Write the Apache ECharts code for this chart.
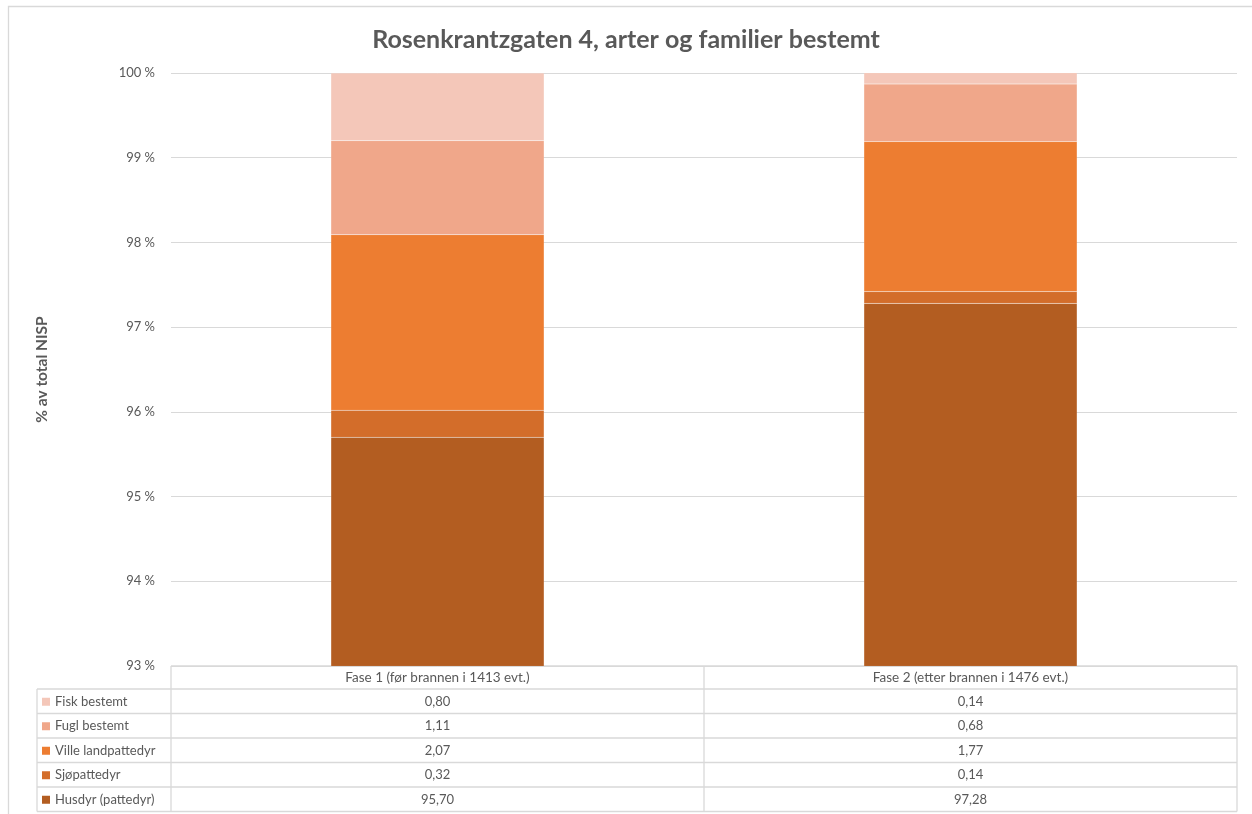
<!DOCTYPE html>
<html>
<head>
<meta charset="utf-8">
<script src="https://cdn.jsdelivr.net/npm/echarts@6/dist/echarts.min.js"></script>
<style>
  html, body { margin: 0; padding: 0; background: #fff; }
  #chart { width: 1252px; height: 814px; }
</style>
</head>
<body>
<div id="chart"></div>
<script>
// Phases (categories)
const categories = ['Fase 1 (før brannen i 1413 evt.)', 'Fase 2 (etter brannen i 1476 evt.)'];

// Share of total NISP per group, one value per phase
const husdyr = [95.70, 97.28];
const sjopattedyr = [0.32, 0.14];
const villeLandpattedyr = [2.07, 1.77];
const fuglBestemt = [1.11, 0.68];
const fiskBestemt = [0.80, 0.14];

// Stacked from bottom to top
const seriesNames = ['Husdyr (pattedyr)', 'Sjøpattedyr', 'Ville landpattedyr', 'Fugl bestemt', 'Fisk bestemt'];
const seriesData = [husdyr, sjopattedyr, villeLandpattedyr, fuglBestemt, fiskBestemt];
const seriesColors = ['#B35D21', '#D36D2A', '#ED7D31', '#F0A78A', '#F4C7B9'];

// Y axis ticks
const yMin = 93, yMax = 100, yStep = 1;

const FONT = 'Lato, "Open Sans", sans-serif';
const TXT = '#595959';
const LINE = '#D9D9D9';

// Plot / table geometry
const plotLeft = 171, plotRight = 1237, plotTop = 73, plotBottom = 666;
const tableLeft = 37;
const headerBottom = 689;
const rowH = 24.5;

const chart = echarts.init(document.getElementById('chart'), null, { renderer: 'canvas' });

function fmt(v) { return v.toFixed(2).replace('.', ','); }

const option = {
  animation: false,
  backgroundColor: '#fff',
  title: {
    text: 'Rosenkrantzgaten 4, arter og familier bestemt',
    left: 'center',
    top: 22,
    textStyle: { fontFamily: FONT, fontSize: 25, fontWeight: 'bold', color: TXT }
  },
  grid: {
    left: plotLeft, right: 1252 - plotRight, top: plotTop, bottom: 814 - plotBottom,
    containLabel: false
  },
  xAxis: {
    type: 'category',
    data: categories,
    axisLine: { show: false },
    axisTick: { show: false },
    axisLabel: { show: false }
  },
  yAxis: {
    type: 'value',
    min: yMin, max: yMax, interval: yStep,
    name: '% av total NISP',
    nameLocation: 'middle',
    nameRotate: 90,
    nameGap: 121,
    nameTextStyle: { fontFamily: FONT, fontSize: 15.5, fontWeight: 'bold', color: TXT },
    axisLine: { show: false },
    axisTick: { show: false },
    axisLabel: {
      formatter: v => v + ' %',
      fontFamily: FONT, fontSize: 13, color: TXT, margin: 16
    },
    splitLine: { lineStyle: { color: LINE, width: 1 } }
  },
  series: seriesNames.map((name, i) => ({
    name: name,
    type: 'bar',
    stack: 'total',
    barWidth: '40%',
    clip: true,
    data: seriesData[i],
    itemStyle: { color: seriesColors[i], borderColor: 'rgba(255,255,255,0.15)', borderWidth: 0.5 }
  }))
};

chart.setOption(option);

// Data table below the plot, built from the same arrays
function buildTable() {
  const els = [];
  const colCenters = categories.map((c, i) => chart.convertToPixel({ xAxisIndex: 0 }, i));
  const midX = (plotLeft + plotRight) / 2;
  const lineStyle = { stroke: LINE, lineWidth: 1.3 };
  // horizontal lines
  els.push({ type: 'line', shape: { x1: plotLeft, y1: plotBottom, x2: plotRight, y2: plotBottom }, style: lineStyle });
  const rowOrder = seriesNames.map((_, i) => i).reverse(); // top row = top of stack
  for (let r = 0; r <= rowOrder.length; r++) {
    const y = headerBottom + r * rowH;
    els.push({ type: 'line', shape: { x1: tableLeft, y1: y, x2: plotRight, y2: y }, style: lineStyle });
  }
  const bottomY = headerBottom + rowOrder.length * rowH;
  // vertical lines
  els.push({ type: 'line', shape: { x1: tableLeft, y1: headerBottom, x2: tableLeft, y2: bottomY }, style: lineStyle });
  [plotLeft, midX, plotRight].forEach(x => {
    els.push({ type: 'line', shape: { x1: x, y1: plotBottom, x2: x, y2: bottomY }, style: lineStyle });
  });
  // header
  categories.forEach((c, i) => {
    els.push({
      type: 'text',
      style: { text: c, x: colCenters[i], y: (plotBottom + headerBottom) / 2 + 0.5, align: 'center', verticalAlign: 'middle',
               fontFamily: FONT, fontSize: 13.5, fill: TXT }
    });
  });
  // rows
  rowOrder.forEach((si, r) => {
    const cy = headerBottom + r * rowH + rowH / 2 + 0.5;
    els.push({ type: 'rect', shape: { x: 42, y: cy - 4, width: 8, height: 8 }, style: { fill: seriesColors[si] } });
    els.push({
      type: 'text',
      style: { text: seriesNames[si], x: 55, y: cy, align: 'left', verticalAlign: 'middle',
               fontFamily: FONT, fontSize: 13, fill: TXT }
    });
    seriesData[si].forEach((v, ci) => {
      els.push({
        type: 'text',
        style: { text: fmt(v), x: colCenters[ci], y: cy, align: 'center', verticalAlign: 'middle',
                 fontFamily: FONT, fontSize: 13, fill: TXT }
      });
    });
  });
  // outer chart border
  els.push({ type: 'rect', shape: { x: 8.5, y: 6.5, width: 1260, height: 830 }, style: { fill: 'none', stroke: LINE, lineWidth: 1.3 } });
  return els;
}

chart.setOption({ graphic: { elements: buildTable() } });
</script>
</body>
</html>
